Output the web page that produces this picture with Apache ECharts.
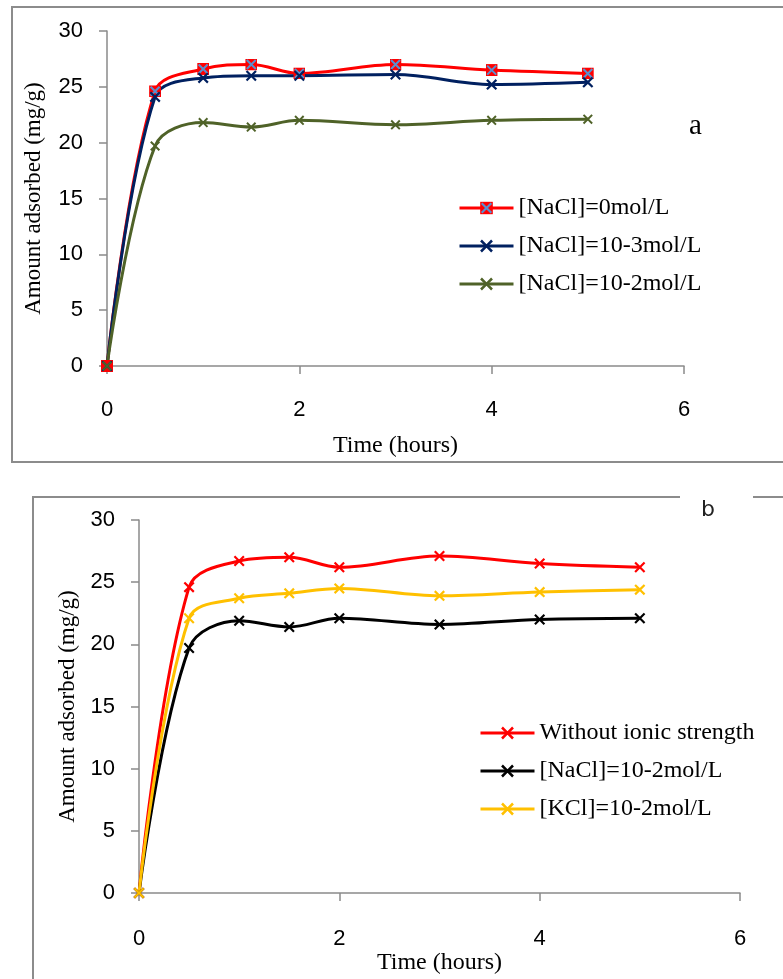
<!DOCTYPE html>
<html>
<head>
<meta charset="utf-8">
<script src="https://cdn.jsdelivr.net/npm/echarts@6/dist/echarts.min.js"></script>
<style>
  html, body { margin: 0; padding: 0; background: #fff; }
  #chart { width: 783px; height: 979px; }
</style>
</head>
<body>
<div id="chart"></div>
<script>
// time points (hours)
var hours = [0, 0.5, 1, 1.5, 2, 3, 4, 5];

// panel a
var aNoSalt = [0, 24.6, 26.6, 27.0, 26.2, 27.0, 26.5, 26.2];
var aNaCl3 = [0, 24.1, 25.8, 26.0, 26.0, 26.1, 25.2, 25.4];
var aNaCl2 = [0, 19.7, 21.8, 21.4, 22.0, 21.6, 22.0, 22.1];

// panel b
var bNone = [0, 24.6, 26.7, 27.0, 26.2, 27.1, 26.5, 26.2];
var bNaCl2 = [0, 19.7, 21.9, 21.4, 22.1, 21.6, 22.0, 22.1];
var bKCl2 = [0, 22.1, 23.7, 24.1, 24.5, 23.9, 24.2, 24.4];

var labels = {
    a1: '[NaCl]=0mol/L',
    a2: '[NaCl]=10-3mol/L',
    a3: '[NaCl]=10-2mol/L',
    b1: 'Without ionic strength',
    b2: '[NaCl]=10-2mol/L',
    b3: '[KCl]=10-2mol/L'
};

var yTicks = [0, 30, 5];
var xTicks = [0, 6, 2];

function pairs(ys) {
    return hours.map(function (h, i) { return [h, ys[i]]; });
}

var crossPath = 'path://M0,1.4 L1.4,0 L5,3.6 L8.6,0 L10,1.4 L6.4,5 L10,8.6 L8.6,10 L5,6.4 L1.4,10 L0,8.6 L3.6,5 Z';
var squareX = 'image://data:image/svg+xml;utf8,' + encodeURIComponent(
    "<svg xmlns='http://www.w3.org/2000/svg' width='24' height='24'>" +
    "<rect width='24' height='24' fill='#ff0000'/>" +
    "<path d='M3,3L21,21M21,3L3,21' stroke='#5b8fcf' stroke-width='4'/></svg>");

var serif = '"Liberation Serif", "Times New Roman", serif';
var sans = '"Liberation Sans Narrow", "Liberation Sans", sans-serif';

function line(name, ys, color, gi, symbol, size) {
    return {
        name: name,
        type: 'line',
        xAxisIndex: gi,
        yAxisIndex: gi,
        data: pairs(ys),
        smooth: 0.35,
        symbol: symbol,
        symbolSize: size,
        showSymbol: true,
        lineStyle: { color: color, width: 3 },
        itemStyle: { color: color },
        z: 3
    };
}

function xAxis(gi, gap, margin) {
    return {
        type: 'value', gridIndex: gi, min: xTicks[0], max: xTicks[1], interval: xTicks[2],
        name: 'Time (hours)', nameLocation: 'middle', nameGap: gap,
        nameTextStyle: { fontFamily: serif, fontSize: 24, color: '#000' },
        axisLine: { show: true, lineStyle: { color: '#8a8a8a', width: 1.5 } },
        axisTick: { show: true, length: 8, lineStyle: { color: '#8a8a8a', width: 1.5 } },
        axisLabel: { fontFamily: sans, fontSize: 22, color: '#000', margin: margin },
        splitLine: { show: false }
    };
}

function yAxis(gi, gap) {
    return {
        type: 'value', gridIndex: gi, min: yTicks[0], max: yTicks[1], interval: yTicks[2],
        name: 'Amount adsorbed (mg/g)', nameLocation: 'middle', nameGap: gap,
        nameTextStyle: { fontFamily: serif, fontSize: 23, color: '#000' },
        axisLine: { show: true, lineStyle: { color: '#8a8a8a', width: 1.5 } },
        axisTick: { show: true, length: 8, lineStyle: { color: '#8a8a8a', width: 1.5 } },
        axisLabel: { fontFamily: sans, fontSize: 22, color: '#000', margin: 24 },
        splitLine: { show: false }
    };
}

function legend(names, left, top) {
    return {
        data: names,
        orient: 'vertical',
        left: left, top: top,
        itemWidth: 54, itemHeight: 16, itemGap: 14,
        formatter: function (n) { return labels[n]; },
        textStyle: { fontFamily: serif, fontSize: 24, color: '#000' },
        lineStyle: { width: 3 },
        selectedMode: false
    };
}

var myChart = echarts.init(document.getElementById('chart'), null, { renderer: 'canvas' });

var option = {
    animation: false,
    backgroundColor: '#fff',
    grid: [
        { left: 107, top: 31, width: 577, height: 335 },
        { left: 139, top: 520, width: 601, height: 373 }
    ],
    xAxis: [xAxis(0, 68, 33), xAxis(1, 58, 35)],
    yAxis: [yAxis(0, 62), yAxis(1, 60)],
    legend: [
        legend(['a1', 'a2', 'a3'], 453, 191),
        legend(['b1', 'b2', 'b3'], 474, 716)
    ],
    graphic: [
        { type: 'rect', shape: { x: 12, y: 7, width: 800, height: 455 },
          style: { fill: 'none', stroke: '#8c8c8c', lineWidth: 2 }, z: -1 },
        { type: 'rect', shape: { x: 33, y: 497, width: 800, height: 520 },
          style: { fill: 'none', stroke: '#8c8c8c', lineWidth: 2 }, z: -1 },
        { type: 'rect', shape: { x: 680, y: 494, width: 73, height: 30 },
          style: { fill: '#fff' }, z: 0 },
        { type: 'text', left: 689, top: 112,
          style: { text: 'a', fontFamily: serif, fontSize: 29, fill: '#000' } },
        { type: 'text', left: 701, top: 499,
          style: { text: 'b', fontFamily: '"DejaVu Sans", sans-serif', fontSize: 22, fill: '#222' }, z: 1 }
    ],
    series: [
        line('a1', aNoSalt, '#ff0000', 0, squareX, 12),
        line('a2', aNaCl3, '#002060', 0, crossPath, 11),
        line('a3', aNaCl2, '#4f6228', 0, crossPath, 10),
        line('b1', bNone, '#ff0000', 1, crossPath, 11),
        line('b2', bNaCl2, '#000000', 1, crossPath, 11),
        line('b3', bKCl2, '#ffc000', 1, crossPath, 11)
    ]
};

myChart.setOption(option);

window.addEventListener('resize', function () {
    myChart.resize();
});
</script>
</body>
</html>
